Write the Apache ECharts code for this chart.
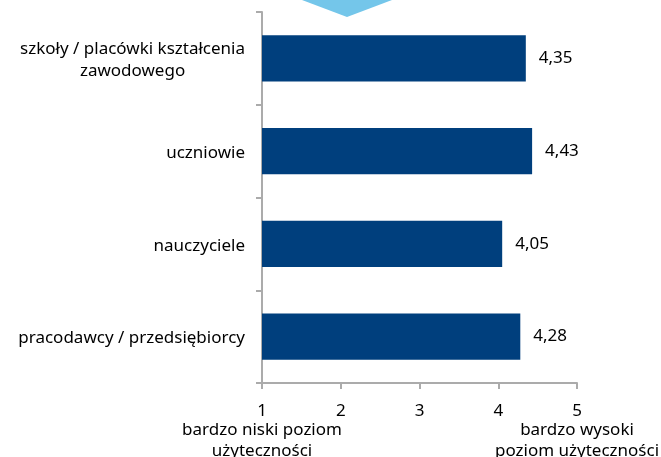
<!DOCTYPE html>
<html>
<head>
<meta charset="utf-8">
<script src="https://cdn.jsdelivr.net/npm/echarts@6/dist/echarts.min.js"></script>
<style>
  html, body { margin: 0; padding: 0; background: #fff; }
  #chart { width: 661px; height: 457px; }
</style>
</head>
<body>
<div id="chart"></div>
<script>
const categories = [
  'szkoły / placówki kształcenia\nzawodowego',
  'uczniowie',
  'nauczyciele',
  'pracodawcy / przedsiębiorcy'
];
const values = [4.35, 4.43, 4.05, 4.28];
const tickLabels = ['1', '2', '3', '4', '5'];
const scaleNotes = {
  1: 'bardzo niski poziom\nużyteczności',
  5: 'bardzo wysoki\npoziom użyteczności'
};

const FONT = '"Noto Sans", "Open Sans", sans-serif';
const AXIS_GREY = '#ababab';

const chart = echarts.init(document.getElementById('chart'), null, { renderer: 'canvas' });

const baseX = {
  type: 'value',
  min: 1,
  max: 5,
  interval: 1,
  splitLine: { show: false }
};

chart.setOption({
  animation: false,
  grid: { left: 262, right: 84, top: 12, bottom: 74, outerBoundsMode: 'none', containLabel: false },
  xAxis: [
    Object.assign({}, baseX, {
      axisLine: { show: true, lineStyle: { color: AXIS_GREY, width: 2 } },
      axisTick: { show: true, length: 6, lineStyle: { color: AXIS_GREY, width: 2 } },
      axisLabel: {
        margin: 20,
        showMinLabel: true,
        showMaxLabel: true,
        color: '#000',
        fontFamily: FONT,
        fontSize: 17,
        formatter: v => tickLabels[v - 1]
      }
    }),
    // second, invisible axis that only carries the scale descriptions
    Object.assign({}, baseX, {
      position: 'bottom',
      axisLine: { show: false },
      axisTick: { show: false },
      axisLabel: {
        margin: 37,
        showMinLabel: true,
        showMaxLabel: true,
        color: '#000',
        fontFamily: FONT,
        fontSize: 17,
        lineHeight: 21,
        formatter: v => scaleNotes[v] || ''
      }
    })
  ],
  yAxis: {
    type: 'category',
    inverse: true,
    data: categories,
    axisLine: { show: true, lineStyle: { color: AXIS_GREY, width: 2 } },
    axisTick: { show: true, length: 6, lineStyle: { color: AXIS_GREY, width: 2 } },
    axisLabel: {
      margin: 17,
      padding: [4, 0, 0, 0],
      color: '#000',
      fontFamily: FONT,
      fontSize: 17,
      lineHeight: 22,
      formatter: v => v.split('\n').map(s => '{c|' + s + '}').join('\n'),
      rich: { c: { align: 'center', fontFamily: FONT, fontSize: 17, color: '#000', lineHeight: 22 } }
    }
  },
  series: [{
    type: 'bar',
    xAxisIndex: 0,
    data: values,
    barWidth: '50%',
    itemStyle: { color: '#003f7d' },
    label: {
      show: true,
      position: 'right',
      distance: 13,
      color: '#000',
      fontFamily: FONT,
      fontSize: 17,
      formatter: p => p.value.toFixed(2).replace('.', ',')
    }
  }],
  graphic: [{
    type: 'polygon',
    shape: { points: [[302, 0], [392, 0], [347, 17]] },
    style: { fill: '#74c6ea' }
  }]
});
</script>
</body>
</html>
